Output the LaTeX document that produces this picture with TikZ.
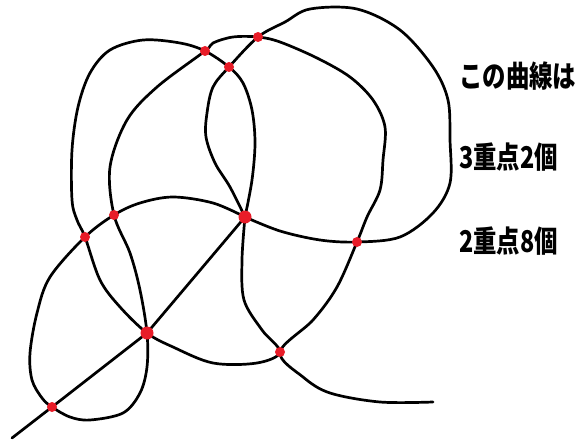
\documentclass[tikz,border=0pt]{standalone}
\usepackage{fontspec}
\newfontfamily\jp{Noto Sans CJK JP}[FakeStretch=0.78]
\definecolor{dotred}{RGB}{232,28,40}
\begin{document}
\begin{tikzpicture}[x=1pt,y=-1pt,
  curve/.style={line width=2.7pt, line join=round, line cap=round},
  dot/.style={circle, fill=dotred, inner sep=0pt, minimum size=10pt},
  tdot/.style={dot, minimum size=13pt},
  lab/.style={anchor=west, inner sep=0pt, font=\jp\bfseries\fontsize{30}{33}\selectfont}]
\useasboundingbox (0,0) rectangle (588,441);
% start -> A -> B -> E
\draw[curve] (12,438) -- (52,407) -- (147,333) -- (245,217);
% E -> right lens side -> G -> F -> left loop -> C -> B -> J -> E
\draw[curve] plot[smooth, tension=0.55] coordinates {
  (245,217) (252,180) (255,143) (252,110) (243,83) (229,67)
  (205,51)
  (180,43) (143,40) (110,50) (90,73) (78,107) (72,150) (72,200) (77,220)
  (85,237)
  (100,280) (120,307) (147,333)
  (173,347) (213,363) (257,363) (280,352)
  (262,330) (244,300) (242,260) (245,217)
};
% E -> left lens side -> G -> H -> outer loop -> I -> E
\draw[curve] plot[smooth, tension=0.55] coordinates {
  (245,217) (230,187) (215,163) (206,137) (207,113) (213,87) (229,67)
  (258,37)
  (285,22) (310,9) (357,9) (400,30) (433,67) (448,100) (450,140) (450,183) (433,213) (400,237) (357,242)
  (320,240) (280,231) (245,217)
};
% E -> D -> C -> lower-left loop -> A -> B -> D -> F -> H -> I -> J -> end
\draw[curve] plot[smooth, tension=0.55] coordinates {
  (245,217)
  (213,203) (173,197) (140,203) (114,215)
  (85,237)
  (50,277) (37,313) (30,353) (32,380) (42,398) (52,407)
  (70,417) (90,420) (123,413) (140,393) (147,367) (147,333)
  (140,290) (130,253) (114,215)
  (110,167) (127,120) (157,87) (205,51)
  (213,43) (233,37) (258,37)
  (280,42) (317,58) (350,77) (373,100) (385,127) (383,160) (380,190) (367,217) (357,242)
  (337,287) (313,320) (280,352)
  (303,377) (330,393) (380,402) (433,402)
};
\node[dot] (A) at (52,407) {};
\node[tdot] (B) at (147,333) {};
\node[dot] (C) at (85,237) {};
\node[dot] (D) at (114,215) {};
\node[tdot] (E) at (245,217) {};
\node[dot] (F) at (205,51) {};
\node[dot] (G) at (229,67) {};
\node[dot] (H) at (258,37) {};
\node[dot] (I) at (357,242) {};
\node[dot] (J) at (280,352) {};
\node[lab] (t1) at (459,76) {この曲線は};
\node[lab] (t2) at (459,157) {3重点2個};
\node[lab] (t3) at (459,241) {2重点8個};
\end{tikzpicture}
\end{document}
